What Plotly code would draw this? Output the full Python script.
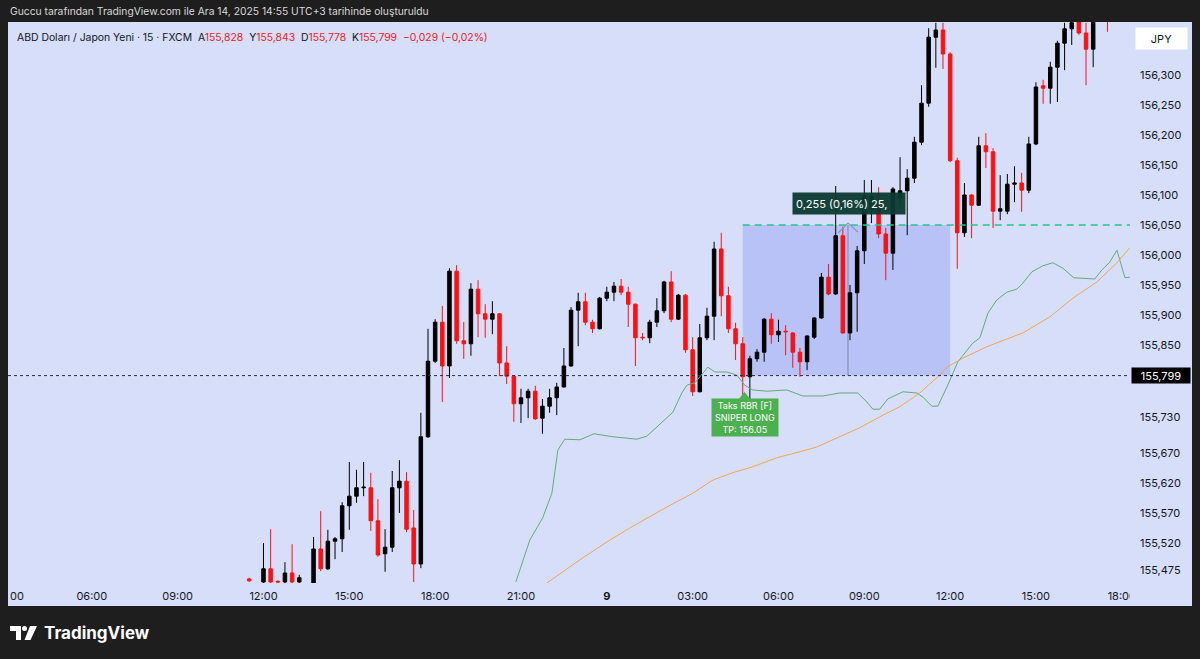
import plotly.graph_objects as go

# ---------------- data ----------------
# hours since Dec 8, 00:00 (15-minute bars)
bar_hours = [11.5, 12.0, 12.25, 12.5, 12.75, 13.0, 13.25, 13.75, 14.0, 14.25, 14.5, 14.75,
             15.0, 15.25, 15.5, 15.75, 16.0, 16.25, 16.5, 16.75, 17.0, 17.25, 17.5, 17.75,
             18.0, 18.25, 18.5, 18.75, 19.0, 19.25, 19.5, 19.75, 20.0, 20.25, 20.5, 20.75,
             21.0, 21.25, 21.5, 21.75, 22.0, 22.25, 22.5, 22.75, 23.0, 23.25, 23.5, 23.75,
             24.0, 24.25, 24.5, 24.75, 25.0, 25.25, 25.5, 25.75, 26.0, 26.25, 26.5, 26.75,
             27.0, 27.25, 27.5, 27.75, 28.0, 28.25, 28.5, 28.75, 29.0, 29.25, 29.5, 29.75,
             30.0, 30.25, 30.5, 30.75, 31.0, 31.25, 31.5, 31.75, 32.0, 32.25, 32.5, 32.75,
             33.0, 33.25, 33.5, 33.75, 34.0, 34.25, 34.5, 34.75, 35.0, 35.25, 35.5, 35.75,
             36.0, 36.25, 36.5, 36.75, 37.0, 37.25, 37.5, 37.75, 38.0, 38.25, 38.5, 38.75,
             39.0, 39.25, 39.5, 39.75, 40.0, 40.25, 40.5, 40.75, 41.0, 41.5]
opens = [155.460, 155.455, 155.477, 155.456, 155.455, 155.470, 155.455, 155.445, 155.510, 155.477, 155.523, 155.527,
         155.582, 155.598, 155.612, 155.612, 155.557, 155.502, 155.513, 155.612, 155.623, 155.545, 155.485, 155.697,
         155.823, 155.888, 155.815, 155.973, 155.857, 155.852, 155.943, 155.902, 155.893, 155.902, 155.820, 155.798,
         155.752, 155.762, 155.773, 155.728, 155.748, 155.762, 155.780, 155.815, 155.908, 155.922, 155.888, 155.877,
         155.928, 155.938, 155.948, 155.938, 155.918, 155.863, 155.862, 155.888, 155.907, 155.955, 155.893, 155.933,
         155.842, 155.772, 155.862, 155.898, 156.010, 155.932, 155.877, 155.852, 155.797, 155.827, 155.838, 155.893,
         155.867, 155.873, 155.870, 155.838, 155.822, 155.863, 155.895, 155.963, 155.935, 156.032, 155.870, 155.937,
         156.007, 156.075, 156.088, 156.035, 156.003, 156.095, 156.107, 156.128, 156.188, 156.253, 156.363, 156.375,
         156.335, 156.157, 156.037, 156.100, 156.083, 156.182, 156.172, 156.073, 156.073, 156.118, 156.120, 156.108,
         156.185, 156.282, 156.278, 156.313, 156.353, 156.377, 156.395, 156.370, 156.343, 156.410]
highs = [155.462, 155.520, 155.543, 155.458, 155.488, 155.518, 155.467, 155.530, 155.573, 155.542, 155.530, 155.588,
         155.655, 155.642, 155.655, 155.637, 155.593, 155.543, 155.640, 155.658, 155.638, 155.575, 155.737, 155.877,
         155.893, 155.915, 155.978, 155.983, 155.888, 155.953, 155.958, 155.918, 155.923, 155.903, 155.848, 155.799,
         155.777, 155.777, 155.782, 155.760, 155.777, 155.787, 155.845, 155.913, 155.937, 155.937, 155.892, 155.930,
         155.947, 155.955, 155.960, 155.947, 155.919, 155.870, 155.892, 155.928, 155.957, 155.973, 155.935, 155.935,
         155.863, 155.885, 155.912, 156.022, 156.037, 155.947, 155.887, 155.863, 155.832, 155.843, 155.895, 155.903,
         155.892, 155.883, 155.871, 155.845, 155.866, 155.896, 155.970, 155.985, 156.115, 156.047, 155.950, 156.015,
         156.125, 156.125, 156.113, 156.045, 156.113, 156.163, 156.143, 156.197, 156.283, 156.378, 156.387, 156.387,
         156.338, 156.162, 156.120, 156.101, 156.197, 156.203, 156.178, 156.133, 156.135, 156.148, 156.137, 156.197,
         156.288, 156.292, 156.322, 156.357, 156.387, 156.400, 156.405, 156.387, 156.410, 156.430]
lows = [155.455, 155.448, 155.448, 155.450, 155.450, 155.450, 155.450, 155.440, 155.473, 155.475, 155.493, 155.505,
        155.542, 155.587, 155.598, 155.540, 155.497, 155.472, 155.505, 155.570, 155.538, 155.455, 155.478, 155.695,
        155.820, 155.755, 155.795, 155.852, 155.827, 155.832, 155.863, 155.862, 155.868, 155.798, 155.785, 155.722,
        155.720, 155.728, 155.725, 155.702, 155.737, 155.733, 155.779, 155.814, 155.848, 155.883, 155.870, 155.876,
        155.923, 155.923, 155.933, 155.880, 155.815, 155.858, 155.853, 155.880, 155.903, 155.888, 155.892, 155.837,
        155.765, 155.771, 155.858, 155.858, 155.898, 155.870, 155.825, 155.765, 155.750, 155.822, 155.822, 155.852,
        155.855, 155.833, 155.812, 155.797, 155.808, 155.860, 155.894, 155.933, 155.934, 155.869, 155.858, 155.872,
        155.985, 156.053, 156.028, 155.958, 155.975, 156.080, 156.033, 156.120, 156.183, 156.247, 156.312, 156.310,
        156.155, 155.977, 156.030, 156.028, 156.082, 156.145, 156.045, 156.058, 156.068, 156.088, 156.072, 156.103,
        156.183, 156.252, 156.252, 156.255, 156.308, 156.350, 156.367, 156.283, 156.313, 156.372]
closes = [155.457, 155.477, 155.455, 155.455, 155.470, 155.455, 155.462, 155.510, 155.477, 155.523, 155.527, 155.582,
          155.598, 155.612, 155.613, 155.557, 155.500, 155.513, 155.612, 155.623, 155.543, 155.485, 155.697, 155.823,
          155.888, 155.815, 155.973, 155.857, 155.852, 155.943, 155.902, 155.893, 155.902, 155.820, 155.798, 155.752,
          155.762, 155.773, 155.727, 155.748, 155.762, 155.780, 155.815, 155.908, 155.922, 155.888, 155.877, 155.928,
          155.938, 155.948, 155.938, 155.918, 155.862, 155.862, 155.888, 155.907, 155.955, 155.893, 155.933, 155.842,
          155.772, 155.862, 155.898, 156.010, 155.932, 155.877, 155.852, 155.797, 155.827, 155.838, 155.893, 155.867,
          155.873, 155.872, 155.838, 155.822, 155.865, 155.895, 155.963, 155.935, 156.032, 155.870, 155.937, 156.007,
          156.098, 156.098, 156.035, 156.003, 156.110, 156.107, 156.128, 156.188, 156.253, 156.363, 156.375, 156.335,
          156.157, 156.037, 156.100, 156.083, 156.182, 156.172, 156.073, 156.077, 156.118, 156.120, 156.108, 156.185,
          156.280, 156.278, 156.313, 156.353, 156.377, 156.387, 156.370, 156.343, 156.395, 156.396]

# green indicator line
green_hours = [20.82, 21.31, 21.76, 22.08, 22.29, 22.53, 23.06, 23.55, 24.21, 25.05, 25.40, 25.96, 26.31,
               26.62, 26.80, 27.08, 27.32, 27.53, 27.78, 28.19, 28.54, 28.82, 29.10, 29.59, 30.29, 30.85,
               31.55, 32.14, 32.77, 33.09, 33.30, 33.54, 33.82, 34.35, 34.84, 35.05, 35.36, 35.57, 35.89,
               36.27, 36.79, 37.04, 37.32, 37.63, 37.98, 38.33, 38.54, 38.86, 39.24, 39.59, 39.94, 40.32,
               41.06, 41.30, 41.58, 41.83, 42.11, 42.28]
green_vals = [155.455, 155.525, 155.562, 155.603, 155.675, 155.693, 155.692, 155.702, 155.697, 155.693, 155.698,
              155.722, 155.738, 155.770, 155.783, 155.787, 155.800, 155.813, 155.805, 155.805, 155.800, 155.783,
              155.775, 155.773, 155.775, 155.765, 155.765, 155.770, 155.770, 155.755, 155.743, 155.743, 155.760,
              155.772, 155.770, 155.763, 155.748, 155.748, 155.780, 155.822, 155.853, 155.862, 155.903, 155.925,
              155.938, 155.943, 155.953, 155.972, 155.982, 155.987, 155.978, 155.962, 155.960, 155.975, 155.988,
              156.008, 155.962, 155.963]

# orange indicator line
orange_hours = [21.90, 23.06, 24.11, 24.91, 26.10, 27.01, 27.71, 28.40, 29.10, 29.94, 30.75, 31.34, 32.04,
                32.84, 33.65, 34.24, 34.94, 35.64, 35.89, 36.44, 37.28, 38.54, 39.49, 40.29, 41.13, 41.83, 42.28]
orange_vals = [155.453, 155.492, 155.525, 155.548, 155.580, 155.603, 155.625, 155.637, 155.647, 155.662, 155.672,
               155.680, 155.695, 155.712, 155.733, 155.747, 155.770, 155.800, 155.813, 155.828, 155.847, 155.870,
               155.897, 155.928, 155.955, 155.987, 156.012]

price_ticks = [156.300, 156.250, 156.200, 156.150, 156.100, 156.050, 156.000, 155.950, 155.900, 155.850,
               155.730, 155.670, 155.620, 155.570, 155.520, 155.475]
price_tick_text = [f"{v:.3f}".replace(".", ",") for v in price_ticks]
time_ticks = [6, 9, 12, 15, 18, 21, 24, 27, 30, 33, 36, 39, 42]
time_tick_text = ["06:00", "09:00", "12:00", "15:00", "18:00", "21:00", "<b>9</b>",
                  "03:00", "06:00", "09:00", "12:00", "15:00", "18:00"]
edge_time_label = "00"  # visible tail of the 03:00 label at the left edge

last_price = 155.799
entry_price = 155.799
target_price = 156.05
position_start = 28.75
position_end = 36.0
position_marker_hour = 32.43

# ---------------- layout geometry ----------------
W, H = 1200, 659
PL, PR, PT, PB = 6, 1130, 22, 583
PX_PER_HOUR = 28.61
X_RANGE = [3.0, 3.0 + (PR - PL) / PX_PER_HOUR]
Y_RANGE = [155.4533, 156.3883]

BG = "#d6defa"
DARK = "#1e1e1e"
FONT = "Inter, Roboto, sans-serif"
TXT = "#131722"


def px(x):
    return (x - PL) / (PR - PL)


def py(y):
    return (PB - y) / (PB - PT)


fig = go.Figure()

fig.add_trace(go.Candlestick(
    x=bar_hours, open=opens, high=highs, low=lows, close=closes,
    increasing=dict(line=dict(color="#000000", width=1), fillcolor="#000000"),
    decreasing=dict(line=dict(color="#ff1010", width=1), fillcolor="#ff1010"),
    whiskerwidth=0, hoverinfo="skip", showlegend=False,
))
fig.add_trace(go.Scatter(x=green_hours, y=green_vals, mode="lines",
                         line=dict(color="#66aa7c", width=1), hoverinfo="skip", showlegend=False))
fig.add_trace(go.Scatter(x=orange_hours, y=orange_vals, mode="lines",
                         line=dict(color="#f3a454", width=1), hoverinfo="skip", showlegend=False))

shapes = [
    # chart frame background
    dict(type="rect", xref="paper", yref="paper", x0=px(8), x1=px(1192), y0=py(606), y1=py(22),
         fillcolor=BG, line=dict(width=0), layer="below"),
    # long position box
    dict(type="rect", xref="x", yref="y", x0=position_start, x1=position_end, y0=entry_price, y1=target_price,
         fillcolor="#b8c2f7", line=dict(width=0), layer="below"),
    dict(type="line", xref="x", yref="y", x0=position_marker_hour, x1=position_marker_hour,
         y0=entry_price, y1=target_price, line=dict(color="#7f86a6", width=1), layer="below"),
    # target dashed line
    dict(type="line", xref="x", yref="y", x0=position_start, x1=X_RANGE[1], y0=target_price, y1=target_price,
         line=dict(color="#27c489", width=1.6, dash="7px,5px"), layer="above"),
    # chevron marker
    dict(type="path", xref="paper", yref="paper",
         path=f"M {px(838)} {py(233)} L {px(848)} {py(223)} L {px(858)} {py(232)}",
         line=dict(color="#8e97c4", width=1.2), layer="above"),
    # last price dotted line
    dict(type="line", xref="paper", yref="y", x0=px(8), x1=1, y0=last_price, y1=last_price,
         line=dict(color="#2a2e39", width=1, dash="dot"), layer="above"),
    # left dark edge
    dict(type="rect", xref="paper", yref="paper", x0=px(-10), x1=px(8), y0=py(660), y1=py(0),
         fillcolor=DARK, line=dict(width=0), layer="above"),
    # clip time label under price scale
    dict(type="rect", xref="paper", yref="paper", x0=px(1130), x1=px(1192), y0=py(606), y1=py(584),
         fillcolor=BG, line=dict(width=0), layer="above"),
    # pointer of the green label
    dict(type="path", xref="paper", yref="paper",
         path=f"M {px(738)} {py(400)} L {px(744.5)} {py(392)} L {px(751)} {py(400)} Z",
         fillcolor="#4caf50", line=dict(width=0), layer="above"),
    # TradingView logo
    dict(type="path", xref="paper", yref="paper",
         path=(f"M {px(10)} {py(626)} L {px(21)} {py(626)} L {px(21)} {py(640)} L {px(16)} {py(640)} "
               f"L {px(16)} {py(631)} L {px(10)} {py(631)} Z"),
         fillcolor="#ffffff", line=dict(width=0), layer="above"),
    dict(type="circle", xref="paper", yref="paper", x0=px(22), x1=px(27), y0=py(631), y1=py(626),
         fillcolor="#ffffff", line=dict(width=0), layer="above"),
    dict(type="path", xref="paper", yref="paper",
         path=f"M {px(30)} {py(626)} L {px(37)} {py(626)} L {px(30.5)} {py(640)} L {px(24.5)} {py(640)} Z",
         fillcolor="#ffffff", line=dict(width=0), layer="above"),
]

red = "#ec1c24"
legend_text = (f"ABD Doları / Japon Yeni · 15 · FXCM&nbsp;&nbsp;A<span style='color:{red}'>155,828</span>"
               f"&nbsp;&nbsp;Y<span style='color:{red}'>155,843</span>"
               f"&nbsp;&nbsp;D<span style='color:{red}'>155,778</span>"
               f"&nbsp;&nbsp;K<span style='color:{red}'>155,799</span>"
               f"&nbsp;&nbsp;<span style='color:{red}'>−0,029 (−0,02%)</span>")

annotations = [
    dict(xref="paper", yref="paper", x=px(8), y=py(11), xanchor="left", yanchor="middle", showarrow=False,
         text="Guccu tarafından TradingView.com ile Ara 14, 2025 14:55 UTC+3 tarihinde oluşturuldu",
         font=dict(family=FONT, size=10.3, color="#d8d8d8")),
    dict(xref="paper", yref="paper", x=px(15), y=py(37), xanchor="left", yanchor="middle", showarrow=False,
         text=legend_text, font=dict(family=FONT, size=10.4, color=TXT)),
    dict(xref="paper", yref="paper", x=px(1161.5), y=py(38.5), xanchor="center", yanchor="middle",
         showarrow=False, text="JPY", bgcolor="#ffffff", width=47, height=17, borderpad=2,
         font=dict(family=FONT, size=11, color=TXT)),
    dict(xref="paper", yref="y", x=px(1161), y=last_price, xanchor="center", yanchor="middle",
         showarrow=False, text="155,799", bgcolor="#000000", width=56, height=13, borderpad=1,
         font=dict(family=FONT, size=11, color="#ffffff")),
    dict(xref="paper", yref="paper", x=px(848.5), y=py(203.5), xanchor="center", yanchor="middle",
         showarrow=False, text="0,255 (0,16%) 25,", bgcolor="rgba(11,58,49,0.95)", width=106, height=15,
         borderpad=3, align="left", font=dict(family=FONT, size=11, color="#ffffff")),
    dict(xref="paper", yref="paper", x=px(744.5), y=py(418), xanchor="center", yanchor="middle",
         showarrow=False, text="Taks RBR [F]<br>SNIPER LONG<br>TP: 156.05", bgcolor="#4caf50",
         width=64, height=35, borderpad=1, font=dict(family=FONT, size=9, color="#ffffff")),
    dict(xref="paper", yref="paper", x=px(8), y=py(596), xanchor="left", yanchor="middle", showarrow=False,
         text=edge_time_label, font=dict(family=FONT, size=11, color=TXT)),
    dict(xref="paper", yref="paper", x=px(42), y=py(633), xanchor="left", yanchor="middle", showarrow=False,
         text="<b>TradingView</b>", font=dict(family=FONT, size=17, color="#ffffff")),
]

fig.update_layout(
    width=W, height=H,
    margin=dict(l=PL, r=W - PR, t=PT, b=H - PB, pad=0, autoexpand=False),
    paper_bgcolor=DARK, plot_bgcolor=BG,
    showlegend=False,
    shapes=shapes, annotations=annotations,
    xaxis=dict(range=X_RANGE, showgrid=False, zeroline=False, showline=False, ticks="", automargin=False,
               tickmode="array", tickvals=time_ticks, ticktext=time_tick_text, ticklabelstandoff=5,
               ticklabeloverflow="allow",
               tickfont=dict(family=FONT, size=11, color=TXT), rangeslider=dict(visible=False),
               fixedrange=True),
    yaxis=dict(range=Y_RANGE, side="right", showgrid=False, zeroline=False, showline=False, ticks="",
               automargin=False,
               tickmode="array", tickvals=price_ticks, ticktext=price_tick_text, ticklabelstandoff=9,
               tickfont=dict(family=FONT, size=11, color=TXT), fixedrange=True),
    hovermode=False,
)

fig.write_html("out.html", config={"displayModeBar": False},
               post_script="document.body.style.margin='0';document.body.style.background='#1e1e1e';")
